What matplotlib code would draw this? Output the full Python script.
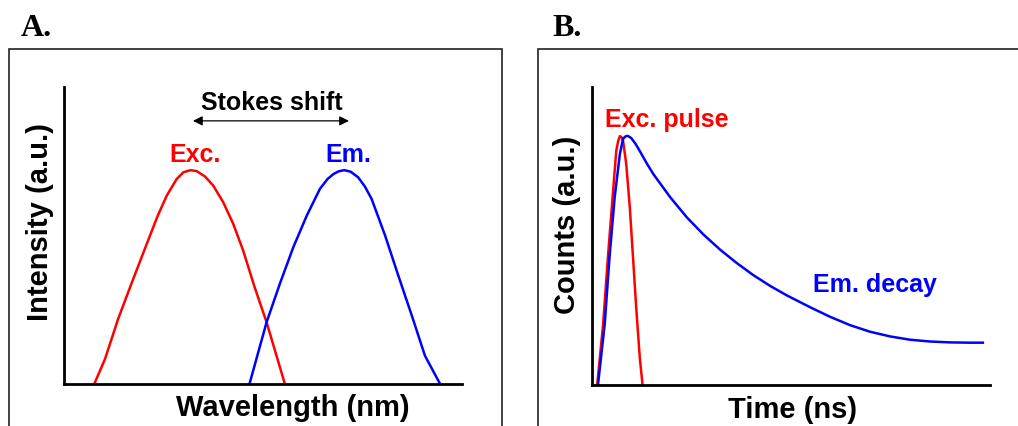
import matplotlib.pyplot as plt
from matplotlib.patches import Rectangle

# Panel A: excitation / emission spectra (arbitrary units)
exc_x = [7.6, 10.3, 13.6, 17.0, 20.6, 23.5, 25.8, 28.3, 30.0, 31.8, 33.3, 35.4, 37.5, 40.0, 42.5, 45.0, 47.8, 50.9, 53.4, 55.5]
exc_y = [0.0, 0.084, 0.219, 0.34, 0.465, 0.565, 0.634, 0.69, 0.713, 0.72, 0.717, 0.699, 0.668, 0.612, 0.54, 0.45, 0.33, 0.208, 0.095, 0.0]
em_x = [46.6, 50.9, 54.3, 57.6, 61.0, 64.3, 66.2, 67.7, 69.0, 70.4, 72.0, 73.9, 75.6, 77.3, 80.7, 84.0, 87.4, 90.7, 94.5]
em_y = [0.0, 0.208, 0.34, 0.46, 0.567, 0.657, 0.69, 0.707, 0.716, 0.72, 0.715, 0.696, 0.665, 0.623, 0.499, 0.365, 0.230, 0.095, 0.0]

# Panel B: excitation pulse and emission decay
pulse_t = [1.3, 2.8, 4.0, 5.3, 6.1, 6.6, 7.0, 7.4, 7.8, 8.6, 9.5, 10.3, 11.1, 12.0, 12.7]
pulse_y = [0.0, 0.205, 0.429, 0.652, 0.786, 0.82, 0.835, 0.832, 0.820, 0.742, 0.596, 0.429, 0.261, 0.093, 0.0]
decay_t = [1.5, 3.2, 4.4, 5.7, 7.0, 7.8, 8.4, 8.9, 9.4, 9.9, 11.0, 12.1, 13.7, 15.4, 19.6, 23.8, 28.0, 32.2, 36.4,
           40.5, 44.7, 48.9, 54.8, 59.8, 64.8, 69.8, 74.9, 79.9, 84.9, 89.9, 95.0, 98.2]
decay_y = [0.0, 0.205, 0.429, 0.630, 0.775, 0.826, 0.834, 0.836, 0.833, 0.828, 0.808, 0.783, 0.745, 0.708, 0.631, 0.563,
           0.505, 0.454, 0.409, 0.369, 0.333, 0.301, 0.261, 0.229, 0.201, 0.179, 0.163, 0.152, 0.146, 0.143, 0.142, 0.142]

plt.rcParams['font.family'] = ['Liberation Sans', 'DejaVu Sans']
W, H = 1018, 427
fig = plt.figure(figsize=(W / 100, H / 100), dpi=100)

def px_box(left, bottom, right, top):
    return [left / W, 1 - bottom / H, (right - left) / W, (bottom - top) / H]

axA = fig.add_axes(px_box(64, 385, 462, 88))
axB = fig.add_axes(px_box(592, 386, 990, 88))

# outer frames around each panel
for l, r in [(9, 502), (538, 1060)]:
    fig.patches.append(Rectangle((l / W, -0.1), (r - l) / W, 1 - 50 / H + 0.1,
                                 transform=fig.transFigure, fill=False,
                                 lw=1.2, edgecolor='#222222'))

for ax in (axA, axB):
    ax.set_xlim(0, 100)
    ax.set_ylim(0, 1)
    ax.set_xticks([])
    ax.set_yticks([])
    for s in ['top', 'right']:
        ax.spines[s].set_visible(False)
    for s in ['left', 'bottom']:
        ax.spines[s].set_linewidth(2.0)
    ax.patch.set_alpha(0)

lw = 1.8
fs_note = 18
fs_label = 21
axA.plot(exc_x, exc_y, color='red', lw=lw)
axA.plot(em_x, em_y, color='blue', lw=lw)
axA.annotate('', xy=(32.4, 0.886), xytext=(71.6, 0.886),
             arrowprops=dict(arrowstyle='<|-|>', color='black', lw=0.9,
                             mutation_scale=14, shrinkA=0, shrinkB=0))
axA.text(52.3, 0.949, 'Stokes shift', ha='center', va='center', fontsize=fs_note, fontweight='bold')
axA.text(32.9, 0.774, 'Exc.', color='red', ha='center', va='center', fontsize=fs_note, fontweight='bold')
axA.text(71.4, 0.774, 'Em.', color='blue', ha='center', va='center', fontsize=fs_note, fontweight='bold')
axA.set_xlabel('Wavelength (nm)', fontsize=fs_label, fontweight='bold')
axA.xaxis.set_label_coords(0.575, -0.077)
axA.xaxis.label.set_verticalalignment('center')
axA.set_ylabel('Intensity (a.u.)', fontsize=fs_label, fontweight='bold')
axA.yaxis.set_label_coords(-0.060, 0.549)
axA.yaxis.label.set_verticalalignment('center')

axB.plot(pulse_t, pulse_y, color='red', lw=lw)
axB.plot(decay_t, decay_y, color='blue', lw=lw)
axB.text(18.8, 0.893, 'Exc. pulse', color='red', ha='center', va='center', fontsize=fs_note, fontweight='bold')
axB.text(71.1, 0.339, 'Em. decay', color='blue', ha='center', va='center', fontsize=fs_note, fontweight='bold')
axB.set_xlabel('Time (ns)', fontsize=fs_label, fontweight='bold')
axB.xaxis.set_label_coords(0.503, -0.081)
axB.xaxis.label.set_verticalalignment('center')
axB.set_ylabel('Counts (a.u.)', fontsize=fs_label, fontweight='bold')
axB.yaxis.set_label_coords(-0.064, 0.540)
axB.yaxis.label.set_verticalalignment('center')

fig.text(21 / W, 1 - 28 / H, 'A.', family='Liberation Serif', fontweight='bold', fontsize=23, va='center', ha='left')
fig.text(552 / W, 1 - 28 / H, 'B.', family='Liberation Serif', fontweight='bold', fontsize=23, va='center', ha='left')

fig.savefig('out.png', dpi=100)
